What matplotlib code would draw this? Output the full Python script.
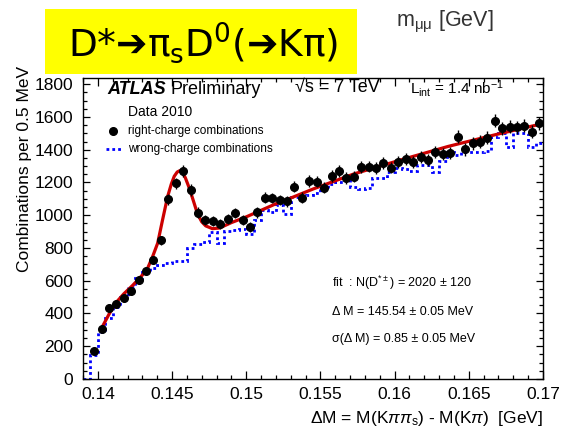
import numpy as np
import matplotlib.pyplot as plt
from matplotlib.patches import Rectangle
from matplotlib.ticker import MultipleLocator

plt.rcParams['font.family'] = ['Liberation Sans', 'DejaVu Sans']
plt.rcParams['mathtext.fontset'] = 'custom'
plt.rcParams['mathtext.rm'] = 'Liberation Sans'
plt.rcParams['mathtext.it'] = 'Liberation Sans:italic'
plt.rcParams['mathtext.bf'] = 'Liberation Sans:bold'

W, H = 563, 426

# 0.5 MeV bins in delta M (GeV)
bin_width = 0.0005
first_edge = 0.139

# right-charge combinations, bin centres 0.13975 ... 0.16975
right_charge = [170, 305, 435, 460, 495, 535, 603, 661, 727, 847,
                1097, 1195, 1272, 1154, 1016, 971, 967, 947, 977, 1012,
                969, 926, 1018, 1107, 1105, 1093, 1085, 1175, 1107, 1209,
                1205, 1168, 1240, 1270, 1226, 1236, 1295, 1297, 1287, 1317,
                1291, 1327, 1341, 1327, 1358, 1337, 1388, 1374, 1382, 1480,
                1402, 1439, 1449, 1474, 1576, 1531, 1541, 1537, 1547, 1510,
                1561]

# wrong-charge combinations, bins from 0.139 to 0.170
wrong_charge = [0, 147, 290, 370, 440, 500, 560, 615, 655, 676,
                696, 708, 718, 720, 798, 825, 838, 895, 830, 905,
                912, 918, 885, 970, 1035, 1020, 1065, 1005, 1110, 1118,
                1125, 1135, 1165, 1190, 1200, 1215, 1175, 1160, 1165, 1226,
                1226, 1266, 1286, 1280, 1272, 1307, 1307, 1266, 1333, 1388,
                1368, 1388, 1388, 1385, 1390, 1480, 1500, 1419, 1500, 1500,
                1419, 1443]

# signal + background fit
fit_dm = [0.14022, 0.14075, 0.14123, 0.14175, 0.14235, 0.14290, 0.14330,
          0.14369, 0.14403, 0.14436, 0.14470, 0.14495, 0.14515, 0.14535,
          0.14552, 0.14570, 0.14590, 0.14617, 0.14645, 0.14671, 0.14700,
          0.14727, 0.14772, 0.14820, 0.14900, 0.15000, 0.15100, 0.15200,
          0.15300, 0.15450, 0.15725, 0.16050, 0.16360, 0.16680, 0.17000]
fit_val = [305, 395, 467, 520, 572, 625, 665,
           747, 829, 971, 1113, 1190, 1238, 1264,
           1272, 1262, 1228, 1164, 1085, 1010, 960,
           935, 918, 922, 955, 990, 1030, 1070,
           1105, 1160, 1252, 1340, 1420, 1492, 1560]

x_ticks = [0.14, 0.145, 0.15, 0.155, 0.16, 0.165, 0.17]
x_tick_labels = ['0.14', '0.145', '0.15', '0.155', '0.16', '0.165', '0.17']


def fx(px):
    return px / W


def fy(py):
    return 1 - py / H


fig = plt.figure(figsize=(W / 100, H / 100), dpi=100)
ax = fig.add_axes([fx(83), fy(379), (543 - 83) / W, (379 - 78) / H])

dm = first_edge + bin_width * (np.arange(len(right_charge)) + 1.5)
edges = first_edge + bin_width * np.arange(len(wrong_charge) + 1)

ax.stairs(wrong_charge, edges, color='#0000ff', lw=2.0,
          linestyle=(0, (1, 1.1)), baseline=None, zorder=2)
ax.plot(fit_dm, fit_val, color='#cc0000', lw=2.3, zorder=3,
        solid_capstyle='butt', solid_joinstyle='round')
ax.errorbar(dm, right_charge, yerr=np.sqrt(right_charge), fmt='o',
            color='black', ms=5.5, elinewidth=1.0, capsize=0, zorder=4)

ax.set_xlim(0.139, 0.170)
ax.set_ylim(0, 1838)
ax.set_xticks(x_ticks)
ax.set_xticklabels(x_tick_labels)
ax.xaxis.set_minor_locator(MultipleLocator(0.001))
ax.yaxis.set_major_locator(MultipleLocator(200))
ax.yaxis.set_minor_locator(MultipleLocator(50))
ax.tick_params(which='both', direction='in', top=True, right=True,
               labelsize=12.5, width=0.9)
ax.tick_params(axis='x', which='major', length=6, pad=6)
ax.tick_params(axis='x', which='minor', length=3)
ax.tick_params(axis='y', which='major', length=5.3, pad=7)
ax.tick_params(axis='y', which='minor', length=3)
for s in ax.spines.values():
    s.set_linewidth(1.0)

# axis titles, ROOT style: flush with the frame ends
fig.text(fx(543), fy(418), r'$\Delta$M = M(K$\pi\pi_{\mathrm{s}}$) - M(K$\pi$)  [GeV]',
         ha='right', va='center', fontsize=12.5)
fig.text(fx(25), fy(66), 'Combinations per 0.5 MeV', rotation=90,
         ha='center', va='top', fontsize=12.5)

# labels inside the frame
fig.text(fx(107), fy(90), 'ATLAS', fontsize=13, fontweight='bold',
         style='italic', va='center')
fig.text(fx(171), fy(90), 'Preliminary', fontsize=13, va='center')
fig.text(fx(295), fy(88), '√s = 7 TeV', fontsize=13, va='center')
fig.text(fx(410), fy(88), r'L$_{\mathrm{int}}$ = 1.4 nb$^{\mathrm{-1}}$',
         fontsize=11, va='center')
fig.text(fx(128), fy(112), 'Data 2010', fontsize=10, va='center')
fig.text(fx(128), fy(131), 'right-charge combinations', fontsize=8.5,
         va='center')
fig.text(fx(128), fy(149), 'wrong-charge combinations', fontsize=8.5,
         va='center')
ax.plot([(113 - 83) / 460], [(379 - 131) / 301], 'o', color='black', ms=5.5,
        transform=ax.transAxes, clip_on=False)
ax.plot([(106 - 83) / 460, (121 - 83) / 460], [(379 - 149) / 301] * 2,
        color='#0000ff', lw=2.0, linestyle=(0, (1, 1.1)),
        transform=ax.transAxes, clip_on=False)

fig.text(fx(332), fy(283), r'fit  : N(D$^{*\pm}$) = 2020 ± 120', fontsize=9,
         va='center')
fig.text(fx(332), fy(312), 'Δ M = 145.54 ± 0.05 MeV', fontsize=9,
         va='center')
fig.text(fx(332), fy(339), 'σ(Δ M) = 0.85 ± 0.05 MeV', fontsize=9,
         va='center')

# slide header
fig.patches.append(Rectangle((fx(45), fy(74)), (357 - 45) / W, (74 - 9) / H,
                             transform=fig.transFigure, facecolor='#ffff00',
                             edgecolor='none', zorder=5))
fig.text(fx(203), fy(43), r'D*➔π$_{\mathrm{s}}$D$^{\mathrm{0}}$(➔Kπ)',
         fontsize=27, family='DejaVu Sans', math_fontfamily='dejavusans',
         ha='center', va='center', zorder=6)
fig.text(fx(445), fy(22), r'm$_{\mathrm{μμ}}$ [GeV]', fontsize=15.5,
         color='#333333', ha='center', va='center')

fig.savefig('out.png', dpi=100)
